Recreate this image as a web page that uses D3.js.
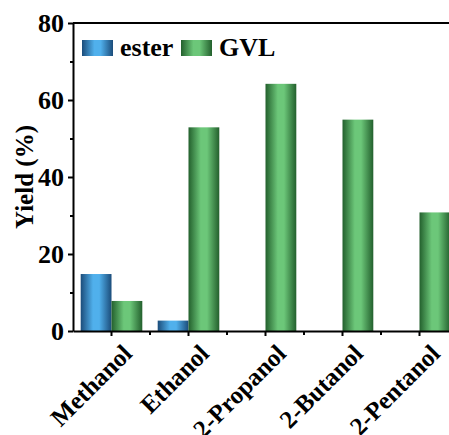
<!DOCTYPE html>
<html>
<head>
<meta charset="utf-8">
<script src="https://cdn.jsdelivr.net/npm/d3@7"></script>
<style>
  body { margin: 0; background: #fff; }
  .axis path, .axis line { stroke: #000; stroke-width: 2; }
</style>
</head>
<body>
<div id="chart"></div>
<script>
const solvents = ["Methanol", "Ethanol", "2-Propanol", "2-Butanol", "2-Pentanol"];
const series = ["ester", "GVL"];
const esterYield = [14.8, 2.7, 0, 0, 0];
const gvlYield = [7.8, 52.9, 64.2, 54.9, 30.8];
const yTicks = [0, 20, 40, 60, 80];
const yMinorTicks = [10, 30, 50, 70];

const W = 449, H = 435;
const plot = { left: 73, right: 458, top: 23, bottom: 331 };
const FONT = "'Liberation Serif', 'Times New Roman', serif";

const svg = d3.select("#chart").append("svg")
    .attr("width", W)
    .attr("height", H)
    .attr("font-family", FONT)
    .attr("font-weight", "bold");

// gradients for the cylinder look
const defs = svg.append("defs");
const grads = [
    { id: "grad-ester", dark: "#1b4c7a", light: "#50b0ec" },
    { id: "grad-GVL", dark: "#23602d", light: "#6cc779" }
];
grads.forEach(g => {
    const lg = defs.append("linearGradient").attr("id", g.id)
        .attr("x1", "0%").attr("x2", "100%").attr("y1", "0%").attr("y2", "0%");
    lg.append("stop").attr("offset", "0%").attr("stop-color", g.dark);
    lg.append("stop").attr("offset", "40%").attr("stop-color", g.light);
    lg.append("stop").attr("offset", "60%").attr("stop-color", g.light);
    lg.append("stop").attr("offset", "100%").attr("stop-color", g.dark);
});

const x0 = d3.scaleBand()
    .domain(solvents)
    .range([plot.left, plot.right])
    .paddingInner(0.2)
    .paddingOuter(0.1);

const x1 = d3.scaleBand()
    .domain(series)
    .range([0, x0.bandwidth()]);

const y = d3.scaleLinear()
    .domain([0, 80])
    .range([plot.bottom, plot.top]);

const rows = solvents.map((s, i) => ({ solvent: s, ester: esterYield[i], GVL: gvlYield[i] }));

// Bars
const groups = svg.append("g").selectAll("g")
    .data(rows)
    .enter().append("g")
    .attr("transform", d => `translate(${x0(d.solvent)},0)`);

groups.selectAll("rect")
    .data(d => series.map(k => ({ key: k, value: d[k] })))
    .enter().append("rect")
    .attr("x", d => x1(d.key))
    .attr("y", d => y(d.value))
    .attr("width", x1.bandwidth())
    .attr("height", d => y(0) - y(d.value))
    .attr("fill", d => `url(#grad-${d.key})`);

// frame top line
svg.append("line")
    .attr("x1", plot.left).attr("x2", plot.right)
    .attr("y1", y(80)).attr("y2", y(80))
    .attr("stroke", "#000").attr("stroke-width", 2);

// Y axis
const yAxis = svg.append("g")
    .attr("class", "axis")
    .attr("transform", `translate(${plot.left},0)`)
    .call(d3.axisLeft(y).tickValues(yTicks).tickSize(5).tickSizeOuter(0).tickPadding(4));
yAxis.attr("font-family", FONT);
yAxis.selectAll("text")
    .style("font-family", FONT)
    .style("font-weight", "bold")
    .style("font-size", "26px");

svg.append("g")
    .attr("class", "axis")
    .attr("transform", `translate(${plot.left},0)`)
    .call(d3.axisLeft(y).tickValues(yMinorTicks).tickSize(3).tickFormat(""))
    .select(".domain").remove();

// X axis
const xAxis = svg.append("g")
    .attr("class", "axis")
    .attr("transform", `translate(0,${plot.bottom})`)
    .call(d3.axisBottom(x0).tickSize(5).tickSizeOuter(0));
xAxis.attr("font-family", FONT);
xAxis.selectAll("text")
    .style("font-family", FONT)
    .style("font-weight", "bold")
    .style("font-size", "25px")
    .attr("text-anchor", "end")
    .attr("dy", null)
    .attr("y", 0)
    .attr("transform", "translate(22,24) rotate(-45)");

// minor ticks between categories
const bounds = solvents.slice(1).map(s => x0(s) - x0.step() * x0.paddingInner() / 2);
svg.append("g").selectAll("line")
    .data(bounds)
    .enter().append("line")
    .attr("x1", d => d).attr("x2", d => d)
    .attr("y1", plot.bottom).attr("y2", plot.bottom + 4)
    .attr("stroke", "#000").attr("stroke-width", 2);

// Y label
svg.append("text")
    .attr("transform", `translate(33,${(plot.top + plot.bottom) / 2}) rotate(-90)`)
    .attr("text-anchor", "middle")
    .style("font-family", FONT)
    .style("font-size", "25px")
    .text("Yield (%)");

// Legend
const legend = svg.append("g").attr("transform", "translate(82,40)");
const legendItems = [
    { key: "ester", x: 0 },
    { key: "GVL", x: 99 }
];
legendItems.forEach(item => {
    legend.append("rect")
        .attr("x", item.x).attr("y", 0)
        .attr("width", 31).attr("height", 16)
        .attr("fill", `url(#grad-${item.key})`);
    legend.append("text")
        .attr("x", item.x + 38).attr("y", 16)
        .style("font-family", FONT)
        .style("font-size", "26px")
        .text(item.key);
});
</script>
</body>
</html>
